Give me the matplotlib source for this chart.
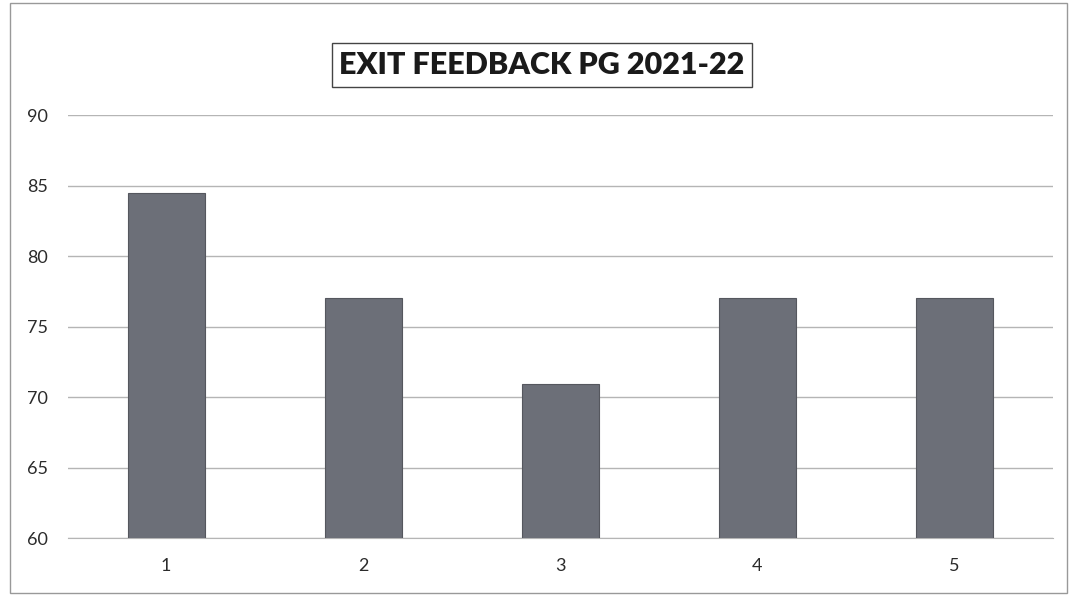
import matplotlib
matplotlib.use("Agg")
import matplotlib.pyplot as plt
from matplotlib.patches import Rectangle

# values
categories = ["1", "2", "3", "4", "5"]
scores = [84.5, 77.0, 70.9, 77.0, 77.0]
y_ticks = [60, 65, 70, 75, 80, 85, 90]
title = "EXIT FEEDBACK PG 2021-22"

plt.rcParams["font.family"] = ["Lato", "DejaVu Sans"]

fig = plt.figure(figsize=(10.73, 5.96), dpi=100)
ax = fig.add_axes([0.063, 0.097, 0.918, 0.71])

x = range(len(categories))
ax.bar(x, scores, width=0.39, color="#6c6f78", edgecolor="#55575e", linewidth=0.8, zorder=3)

ax.set_ylim(60, 90)
ax.set_xlim(-0.5, len(categories) - 0.5)
ax.set_yticks(y_ticks)
ax.set_xticks(list(x))
ax.set_xticklabels(categories)
ax.tick_params(axis="both", length=0, labelsize=13, colors="#2b2b2b")
ax.tick_params(axis="y", pad=14)
ax.tick_params(axis="x", pad=14)
ax.yaxis.grid(True, color="#b5b5b5", linewidth=1.0, zorder=0)
for side in ["top", "right", "left"]:
    ax.spines[side].set_visible(False)
ax.spines["bottom"].set_color("#b5b5b5")

fig.text(0.505, 0.891, title, ha="center", va="center", fontsize=22, fontweight="heavy",
         color="#1a1a1a",
         bbox=dict(boxstyle="square,pad=0.25", facecolor="white", edgecolor="#444444", linewidth=1))

# outer chart border
fig.add_artist(Rectangle((0.009, 0.005), 0.985, 0.99, transform=fig.transFigure,
                         fill=False, edgecolor="#999999", linewidth=1))

fig.savefig("out.png", dpi=100)
